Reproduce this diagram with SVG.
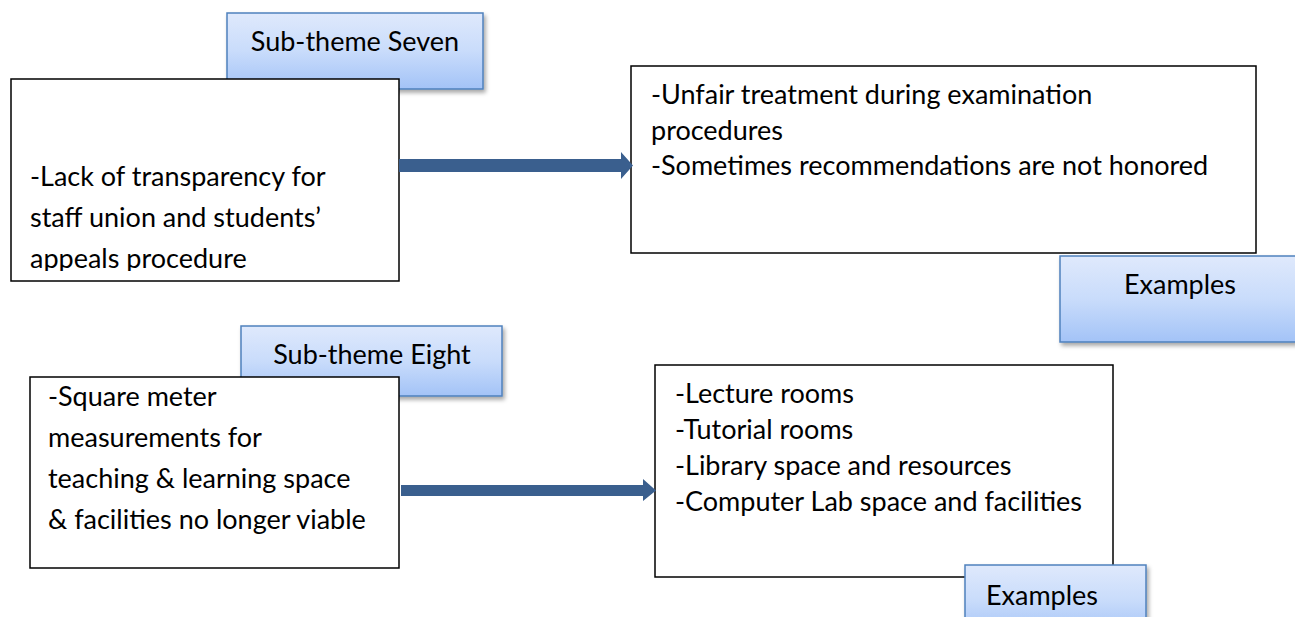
<svg xmlns="http://www.w3.org/2000/svg" width="1295" height="617" viewBox="0 0 1295 617">
  <style>
    .box { fill: #ffffff; stroke: #000000; stroke-width: 1.5; }
    .tag { fill: url(#tagFill); stroke: #4f81bd; stroke-width: 1.5; filter: url(#tagShadow); }
    .txt { font-family: Lato, "Open Sans", sans-serif; font-size: 27px; fill: #000000; }
    .mid { text-anchor: middle; }
    .arrow { fill: #3a5f8e; }
  </style>
  <defs>
    <linearGradient id="tagFill" x1="0" y1="0" x2="0" y2="1">
      <stop offset="0" stop-color="#dfe9fc"/>
      <stop offset="0.5" stop-color="#c9dcfb"/>
      <stop offset="1" stop-color="#a3c3f7"/>
    </linearGradient>
    <linearGradient id="shaftFill" x1="0" y1="0" x2="0" y2="1">
      <stop offset="0" stop-color="#375c8c"/>
      <stop offset="0.5" stop-color="#5b82b4"/>
      <stop offset="1" stop-color="#375c8c"/>
    </linearGradient>
    <filter id="tagShadow" x="-10%" y="-10%" width="125%" height="135%">
      <feDropShadow dx="2" dy="3" stdDeviation="2" flood-color="#000000" flood-opacity="0.35"/>
    </filter>
    <clipPath id="clipLeftTop">
      <rect x="12" y="80" width="386" height="191"/>
    </clipPath>
  </defs>

  <!-- sub-theme seven label -->
  <g id="subThemeSeven">
    <rect class="tag" x="227" y="13" width="256" height="76"/>
    <text class="txt mid" x="355" y="51">Sub-theme Seven</text>
  </g>

  <!-- issue box, sub-theme seven -->
  <g id="issueSeven">
    <rect class="box" x="11" y="79" width="388" height="202"/>
    <g clip-path="url(#clipLeftTop)">
      <text class="txt" x="30" y="186">-Lack of transparency for</text>
      <text class="txt" x="30" y="227">staff union and students’</text>
      <text class="txt" x="30" y="268">appeals procedure</text>
    </g>
  </g>

  <!-- examples box, sub-theme seven -->
  <g id="examplesSeven">
    <rect class="box" x="631" y="66" width="625" height="187"/>
    <text class="txt" x="651" y="104">-Unfair treatment during examination</text>
    <text class="txt" x="651" y="140">procedures</text>
    <text class="txt" x="651" y="175">-Sometimes recommendations are not honored</text>
  </g>

  <g id="examplesTagSeven">
    <rect class="tag" x="1060" y="256" width="245" height="86"/>
    <text class="txt mid" x="1180" y="294">Examples</text>
  </g>

  <!-- sub-theme eight label -->
  <g id="subThemeEight">
    <rect class="tag" x="241" y="326" width="261" height="70"/>
    <text class="txt mid" x="372" y="364">Sub-theme Eight</text>
  </g>

  <!-- issue box, sub-theme eight -->
  <g id="issueEight">
    <rect class="box" x="30" y="377" width="369" height="191"/>
    <text class="txt" x="48" y="406">-Square meter</text>
    <text class="txt" x="48" y="447">measurements for</text>
    <text class="txt" x="48" y="488">teaching &amp; learning space</text>
    <text class="txt" x="48" y="529">&amp; facilities no longer viable</text>
  </g>

  <!-- examples box, sub-theme eight -->
  <g id="examplesEight">
    <rect class="box" x="655" y="365" width="458" height="212"/>
    <text class="txt" x="675" y="403">-Lecture rooms</text>
    <text class="txt" x="675" y="439">-Tutorial rooms</text>
    <text class="txt" x="675" y="475">-Library space and resources</text>
    <text class="txt" x="675" y="511">-Computer Lab space and facilities</text>
  </g>

  <g id="examplesTagEight">
    <rect class="tag" x="965" y="565" width="181" height="70"/>
    <text class="txt mid" x="1042" y="605">Examples</text>
  </g>

  <!-- block arrows linking issue to examples -->
  <g id="connectors">
    <polygon class="arrow" points="399,159 621,159 621,152 633,165.5 621,179 621,172 399,172" fill="url(#shaftFill)"/>
    <polygon class="arrow" points="401,485 643,485 643,479 656,490.5 643,501 643,496 401,496"/>
  </g>
</svg>
